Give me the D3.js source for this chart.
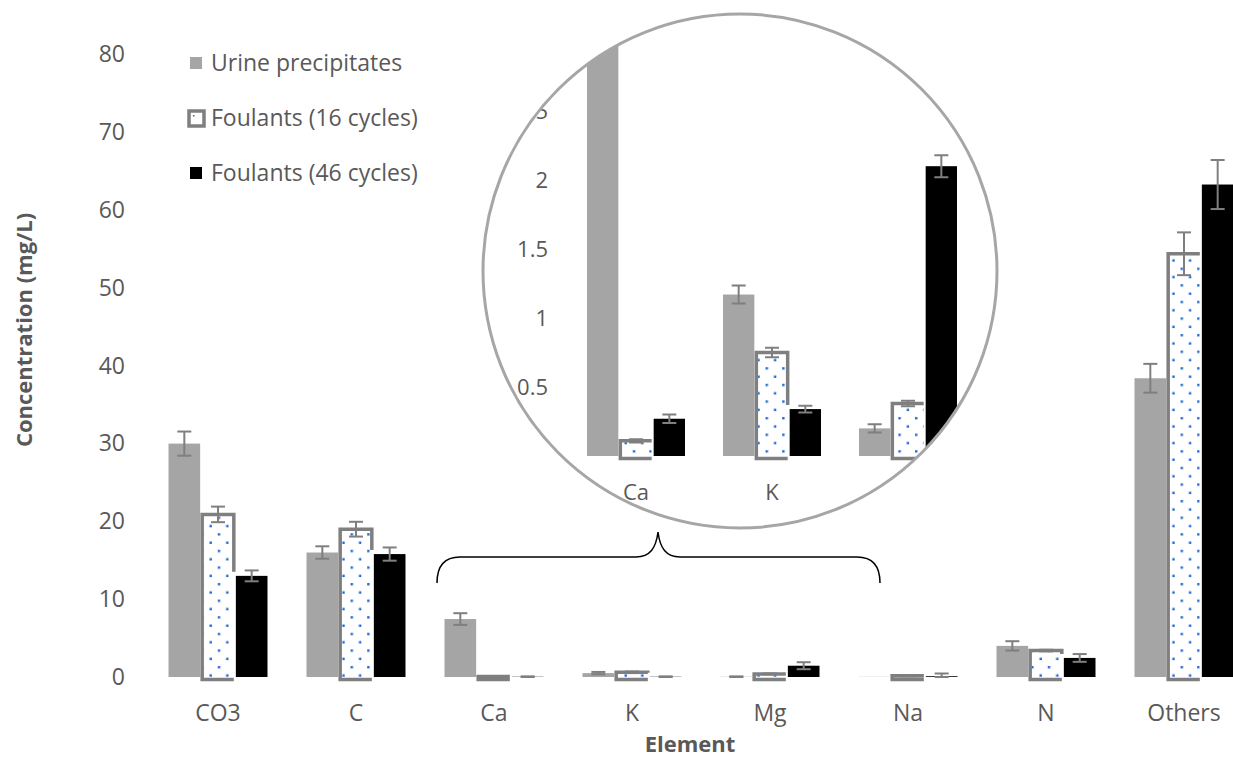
<!DOCTYPE html>
<html>
<head>
<meta charset="utf-8">
<script src="https://cdn.jsdelivr.net/npm/d3@7"></script>
<style>
  html, body { margin: 0; padding: 0; background: #ffffff; }
  svg { display: block; font-family: "Open Sans", "Noto Sans", sans-serif; }
</style>
</head>
<body>
<svg id="chart" width="1233" height="760"></svg>
<script>
// ---- main chart data (mg/L) ----
const categories = ["CO3", "C", "Ca", "K", "Mg", "Na", "N", "Others"];
const seriesNames = ["Urine precipitates", "Foulants (16 cycles)", "Foulants (46 cycles)"];
const urine    = [30.0, 16.0, 7.45, 0.5, 0.03, 0.02, 4.0, 38.4];
const urineErr = [1.55, 0.8, 0.75, 0.15, 0.05, 0.0, 0.6, 1.85];
const f16      = [20.9, 19.0, 0.05, 0.6, 0.4, 0.15, 3.4, 54.4];
const f16Err   = [1.0, 0.95, 0.02, 0.1, 0.05, 0.05, 0.1, 2.75];
const f46      = [13.0, 15.8, 0.03, 0.03, 1.45, 0.1, 2.45, 63.3];
const f46Err   = [0.7, 0.85, 0.05, 0.05, 0.45, 0.35, 0.5, 3.15];
const yTicks   = [0, 10, 20, 30, 40, 50, 60, 70, 80];

// ---- magnified view of the minor elements ----
const insetCategories = ["Ca", "K", "Mg"];
const insetUrine    = [7.45, 1.17, 0.2];
const insetUrineErr = [0.0, 0.065, 0.03];
const insetF16      = [0.11, 0.75, 0.38];
const insetF16Err   = [0.012, 0.035, 0.02];
const insetF46      = [0.27, 0.34, 2.1];
const insetF46Err   = [0.03, 0.025, 0.08];
const insetTicks    = [0, 0.5, 1, 1.5, 2, 2.5, 3];

const TEXT = "#595959";
const GREY_FILL = "#a5a5a5";
const BORDER = "#7f7f7f";
const DOT = "#1f68d8";

const svg = d3.select("#chart");

// dotted fill for the 16-cycle series
const defs = svg.append("defs");
const pat = defs.append("pattern")
  .attr("id", "dots").attr("patternUnits", "userSpaceOnUse")
  .attr("width", 16.6).attr("height", 16.6);
pat.append("rect").attr("width", 16.6).attr("height", 16.6).attr("fill", "#ffffff");
pat.append("rect").attr("x", 2.0).attr("y", 2.0).attr("width", 2.4).attr("height", 2.4).attr("fill", DOT);
pat.append("rect").attr("x", 10.3).attr("y", 10.3).attr("width", 2.4).attr("height", 2.4).attr("fill", DOT);

// draws a grouped bar chart (three series) into a group using the given scales
function drawBars(g, cats, vals, errs, x, xs, y) {
  const layer = g.append("g");
  const y0 = y(0);
  const rows = cats.map((c, i) => ({
    c, i,
    u: vals[0][i], f16: vals[1][i], f46: vals[2][i],
    ue: errs[0][i], f16e: errs[1][i], f46e: errs[2][i]
  }));

  // urine precipitates
  layer.selectAll("rect.urine").data(rows).join("rect")
    .attr("class", "urine")
    .attr("x", d => x(d.c) + xs(0)).attr("width", xs.bandwidth())
    .attr("y", d => y(d.u)).attr("height", d => y0 - y(d.u))
    .attr("fill", GREY_FILL);

  // foulants after 16 cycles: dotted fill
  layer.selectAll("rect.f16").data(rows).join("rect")
    .attr("class", "f16")
    .attr("x", d => x(d.c) + xs(1)).attr("width", xs.bandwidth())
    .attr("y", d => y(d.f16)).attr("height", d => y0 - y(d.f16))
    .attr("fill", "url(#dots)");

  // foulants after 46 cycles
  layer.selectAll("rect.f46").data(rows).join("rect")
    .attr("class", "f46")
    .attr("x", d => x(d.c) + xs(2)).attr("width", xs.bandwidth())
    .attr("y", d => y(d.f46)).attr("height", d => y0 - y(d.f46))
    .attr("fill", "#000000");

  // heavy outline of the dotted bars; the right edge stops where the neighbouring black bar begins
  layer.selectAll("path.f16border").data(rows).join("path")
    .attr("class", "f16border")
    .attr("d", d => {
      const xl = x(d.c) + xs(1), xr = xl + xs.bandwidth();
      const yt = y(d.f16), yb = y0 + 2.5;
      const stop = Math.max(yt, Math.min(yb, y(d.f46) - 4));
      return `M${xr},${yb}H${xl}V${yt}H${xr}V${stop}`;
    })
    .attr("fill", "none").attr("stroke", BORDER).attr("stroke-width", 3.5)
    .attr("stroke-linejoin", "miter");

  // error bars
  const eb = [];
  rows.forEach(d => {
    eb.push({ cx: x(d.c) + xs(0) + xs.bandwidth() / 2, v: d.u, e: d.ue });
    eb.push({ cx: x(d.c) + xs(1) + xs.bandwidth() / 2, v: d.f16, e: d.f16e });
    eb.push({ cx: x(d.c) + xs(2) + xs.bandwidth() / 2, v: d.f46, e: d.f46e });
  });
  const ebs = layer.selectAll("g.err").data(eb.filter(d => d.e > 0)).join("g").attr("class", "err")
    .attr("stroke", BORDER).attr("stroke-width", 2);
  ebs.append("line").attr("x1", d => d.cx).attr("x2", d => d.cx)
    .attr("y1", d => y(d.v + d.e)).attr("y2", d => y(Math.max(0, d.v - d.e)));
  ebs.append("line").attr("x1", d => d.cx - 7).attr("x2", d => d.cx + 7)
    .attr("y1", d => y(d.v + d.e)).attr("y2", d => y(d.v + d.e));
  ebs.append("line").attr("x1", d => d.cx - 7).attr("x2", d => d.cx + 7)
    .attr("y1", d => y(Math.max(0, d.v - d.e))).attr("y2", d => y(Math.max(0, d.v - d.e)));
  return layer;
}

// ---------- main chart ----------
const x = d3.scaleBand().domain(categories).range([149, 1253]);
const xs = d3.scaleBand().domain([0, 1, 2]).range([19.5, 118.5]).paddingInner(0.06);
const y = d3.scaleLinear().domain([0, 80]).range([677, 54.6]);

const main = svg.append("g");
drawBars(main, categories, [urine, f16, f46], [urineErr, f16Err, f46Err], x, xs, y);

const yAxis = main.append("g").attr("transform", "translate(130,0)")
  .call(d3.axisLeft(y).tickValues(yTicks).tickSize(0).tickPadding(5).tickFormat(d3.format("d")));
yAxis.select(".domain").remove();
yAxis.selectAll("text").attr("fill", TEXT).style("font-size", "23px")
  .style("font-family", "'Open Sans', sans-serif");

const xAxis = main.append("g").attr("transform", `translate(0,${y(0)})`)
  .call(d3.axisBottom(x).tickSize(0).tickPadding(28));
xAxis.select(".domain").remove();
xAxis.selectAll("text").attr("fill", TEXT).style("font-size", "23px")
  .style("font-family", "'Open Sans', sans-serif");

// axis titles
svg.append("text")
  .attr("transform", "translate(32,330) rotate(-90)")
  .attr("text-anchor", "middle")
  .attr("fill", TEXT).style("font-size", "22px").style("font-weight", "bold")
  .text("Concentration (mg/L)");
svg.append("text")
  .attr("x", 690).attr("y", 752)
  .attr("text-anchor", "middle")
  .attr("fill", TEXT).style("font-size", "22px").style("font-weight", "bold")
  .text("Element");

// ---------- legend ----------
const legend = svg.append("g");
const items = legend.selectAll("g").data(seriesNames).join("g")
  .attr("transform", (d, i) => `translate(0,${63 + i * 55})`);
items.each(function (d, i) {
  const g = d3.select(this);
  if (i === 0) {
    g.append("rect").attr("x", 190).attr("y", -6).attr("width", 12).attr("height", 12).attr("fill", GREY_FILL);
  } else if (i === 1) {
    g.append("rect").attr("x", 189).attr("y", -7).attr("width", 15).attr("height", 15)
      .attr("fill", "#ffffff").attr("stroke", BORDER).attr("stroke-width", 3.5);
    g.append("rect").attr("x", 193).attr("y", -3).attr("width", 1.5).attr("height", 1.5).attr("fill", DOT);
  } else {
    g.append("rect").attr("x", 190).attr("y", -6).attr("width", 12).attr("height", 12).attr("fill", "#000000");
  }
  g.append("text").attr("x", 211).attr("y", 0).attr("dy", "0.35em")
    .attr("fill", TEXT).style("font-size", "23px").text(d);
});

// ---------- magnified circle ----------
const cx = 740, cy = 271, r = 257;
defs.append("clipPath").attr("id", "lens").append("circle").attr("cx", cx).attr("cy", cy).attr("r", r);

const inset = svg.append("g");
inset.append("circle").attr("cx", cx).attr("cy", cy).attr("r", r).attr("fill", "#ffffff");

const ix = d3.scaleBand().domain(insetCategories).range([568, 976]);
const ixs = d3.scaleBand().domain([0, 1, 2]).range([19, 117]).paddingInner(0.06);
const iy = d3.scaleLinear().domain([0, 3]).range([456, 42]);

const lens = inset.append("g").attr("clip-path", "url(#lens)");
drawBars(lens, insetCategories, [insetUrine, insetF16, insetF46],
  [insetUrineErr, insetF16Err, insetF46Err], ix, ixs, iy);

const iyAxis = lens.append("g").attr("transform", "translate(553,0)")
  .call(d3.axisLeft(iy).tickValues(insetTicks).tickSize(0).tickPadding(5).tickFormat(d => d));
iyAxis.select(".domain").remove();
iyAxis.selectAll("text").attr("fill", TEXT).style("font-size", "22px")
  .style("font-family", "'Open Sans', sans-serif");

const ixAxis = lens.append("g").attr("transform", `translate(0,${iy(0)})`)
  .call(d3.axisBottom(ix).tickSize(0).tickPadding(28));
ixAxis.select(".domain").remove();
ixAxis.selectAll("text").attr("fill", TEXT).style("font-size", "22px")
  .style("font-family", "'Open Sans', sans-serif");

inset.append("circle").attr("cx", cx).attr("cy", cy).attr("r", r)
  .attr("fill", "none").attr("stroke", "#a6a6a6").attr("stroke-width", 3);

// curly brace grouping Ca, K and Mg under the magnified view
svg.append("path")
  .attr("d", "M437,583 C437,566 444,557 460,557 L636,557 C650,557 656,548 658,532 C660,548 666,557 680,557 L857,557 C873,557 880,566 880,583")
  .attr("fill", "none").attr("stroke", "#000000").attr("stroke-width", 1.5);
</script>
</body>
</html>
